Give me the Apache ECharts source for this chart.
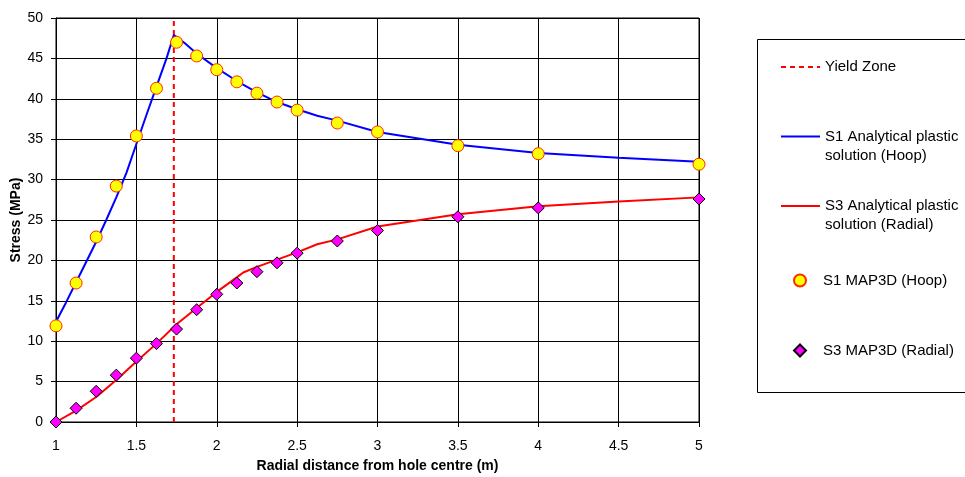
<!DOCTYPE html>
<html><head><meta charset="utf-8">
<script src="https://cdn.jsdelivr.net/npm/echarts@6/dist/echarts.min.js"></script>
<style>html,body{margin:0;padding:0;background:#fff}#c{width:965px;height:477px}</style>
</head><body><div id="c"></div>
<script>
// Data
const yieldZoneX = 1.733;
const s1AnalyticalX = [1, 1.0625, 1.125, 1.1875, 1.25, 1.3125, 1.375, 1.4375, 1.5, 1.5625, 1.625, 1.6875, 1.733, 1.8, 1.875, 2, 2.125, 2.25, 2.375, 2.5, 2.625, 2.75, 3, 3.5, 4, 4.5, 5];
const s1AnalyticalY = [12.4, 14.8, 17.3, 19.8, 22.3, 25.0, 27.8, 30.8, 34.4, 38.0, 41.5, 45.0, 47.9, 46.9, 45.6, 43.8, 42.2, 40.8, 39.6, 38.7, 37.9, 37.3, 35.9, 34.3, 33.3, 32.7, 32.2];
const s3AnalyticalX = [1, 1.125, 1.25, 1.375, 1.5, 1.625, 1.75, 1.875, 2, 2.125, 2.165, 2.25, 2.375, 2.5, 2.625, 2.75, 3, 3.5, 4, 4.5, 5];
const s3AnalyticalY = [0, 1.4, 3.1, 5.2, 7.5, 9.7, 12.1, 14.1, 16.1, 17.9, 18.5, 19.2, 20.1, 21.0, 22.0, 22.6, 24.2, 25.7, 26.7, 27.3, 27.8];
const mapX = [1, 1.125, 1.25, 1.375, 1.5, 1.625, 1.75, 1.875, 2, 2.125, 2.25, 2.375, 2.5, 2.75, 3, 3.5, 4, 5];
const s1Map3D = [11.9, 17.2, 22.9, 29.2, 35.4, 41.3, 47.0, 45.3, 43.6, 42.1, 40.7, 39.6, 38.6, 37.0, 35.9, 34.2, 33.2, 31.9];
const s3Map3D = [0, 1.7, 3.8, 5.8, 7.9, 9.7, 11.5, 13.9, 15.8, 17.2, 18.6, 19.7, 20.9, 22.4, 23.7, 25.4, 26.5, 27.6];
const yTicks = {min: 0, max: 50, interval: 5};
const xTicks = {min: 1, max: 5, interval: 0.5};
const names = ['Yield Zone', 'S1 Analytical plastic\nsolution (Hoop)', 'S3 Analytical plastic\nsolution (Radial)', 'S1 MAP3D (Hoop)', 'S3 MAP3D (Radial)'];

const zip = (xs, ys) => xs.map((x, i) => [x, ys[i]]);
const FONT = 'Liberation Sans, Arial, sans-serif';
const chart = echarts.init(document.getElementById('c'), null, {renderer: 'canvas'});
const legendText = {fontFamily: FONT, fontSize: 15, color: '#000', lineHeight: 19};

function lineLegend(name, top, twoLine) {
  return {
    data: [name], left: 780, top: top, orient: 'vertical',
    itemWidth: 39, itemHeight: 14, padding: 0, selectedMode: false,
    itemStyle: {opacity: 0},
    formatter: twoLine ? (n => '\n' + n) : undefined,
    textStyle: legendText
  };
}
function markerLegend(name, top, size) {
  return {
    data: [name], left: 799 - size / 2, top: top, orient: 'vertical',
    itemWidth: size, itemHeight: size, padding: 0, selectedMode: false,
    textStyle: Object.assign({}, legendText, {padding: [0, 0, 0, 24 - size]})
  };
}

chart.setOption({
  animation: false,
  backgroundColor: '#fff',
  grid: {left: 56, right: 266, top: 18, bottom: 55, containLabel: false, outerBoundsMode: 'none',
         show: true, borderColor: '#000', borderWidth: 1},
  xAxis: {
    type: 'value', min: xTicks.min, max: xTicks.max, interval: xTicks.interval,
    name: 'Radial distance from hole centre (m)', nameLocation: 'middle', nameGap: 37, nameMoveOverlap: false,
    nameTextStyle: {fontFamily: FONT, fontSize: 14, fontWeight: 'bold', color: '#000'},
    axisLine: {lineStyle: {color: '#000', width: 1}},
    axisTick: {show: true, inside: false, length: 5, lineStyle: {color: '#000'}},
    axisLabel: {fontFamily: FONT, fontSize: 14, color: '#000', margin: 17},
    splitLine: {show: true, lineStyle: {color: '#000', width: 1}}
  },
  yAxis: {
    type: 'value', min: yTicks.min, max: yTicks.max, interval: yTicks.interval,
    name: 'Stress (MPa)', nameLocation: 'middle', nameGap: 33, nameMoveOverlap: false,
    nameTextStyle: {fontFamily: FONT, fontSize: 14, fontWeight: 'bold', color: '#000'},
    axisLine: {show: true, lineStyle: {color: '#000', width: 1}},
    axisTick: {show: true, inside: false, length: 5, lineStyle: {color: '#000'}},
    axisLabel: {fontFamily: FONT, fontSize: 14, color: '#000', margin: 13},
    splitLine: {show: true, lineStyle: {color: '#000', width: 1}}
  },
  legend: [
    lineLegend(names[0], 57.5, false),
    lineLegend(names[1], 108, true),
    lineLegend(names[2], 177.5, true),
    markerLegend(names[3], 271, 12),
    markerLegend(names[4], 341, 12)
  ],
  graphic: [{
    type: 'rect', left: 757, top: 39, z: -1,
    shape: {width: 215, height: 353},
    style: {fill: '#fff', stroke: '#000', lineWidth: 1}
  }],
  series: [
    {name: names[0], type: 'line', data: [[yieldZoneX, yTicks.min], [yieldZoneX, yTicks.max]],
     symbol: 'none', z: 2,
     lineStyle: {color: '#ff0000', width: 2, type: [5, 4]}, itemStyle: {color: '#ff0000'}},
    {name: names[1], type: 'line', data: zip(s1AnalyticalX, s1AnalyticalY), symbol: 'none', z: 3,
     lineStyle: {color: '#0000ff', width: 2}, itemStyle: {color: '#0000ff'}},
    {name: names[2], type: 'line', data: zip(s3AnalyticalX, s3AnalyticalY), symbol: 'none', z: 3,
     lineStyle: {color: '#ff0000', width: 2}, itemStyle: {color: '#ff0000'}},
    {name: names[3], type: 'scatter', data: zip(mapX, s1Map3D), symbol: 'circle', symbolSize: 12, z: 4,
     itemStyle: {color: '#ffff00', borderColor: '#ff2a00', borderWidth: 1, opacity: 1}},
    {name: names[4], type: 'scatter', data: zip(mapX, s3Map3D), symbol: 'diamond', symbolSize: 12, z: 4,
     itemStyle: {color: '#ff00ff', borderColor: '#000', borderWidth: 1, opacity: 1}}
  ]
});
</script></body></html>
